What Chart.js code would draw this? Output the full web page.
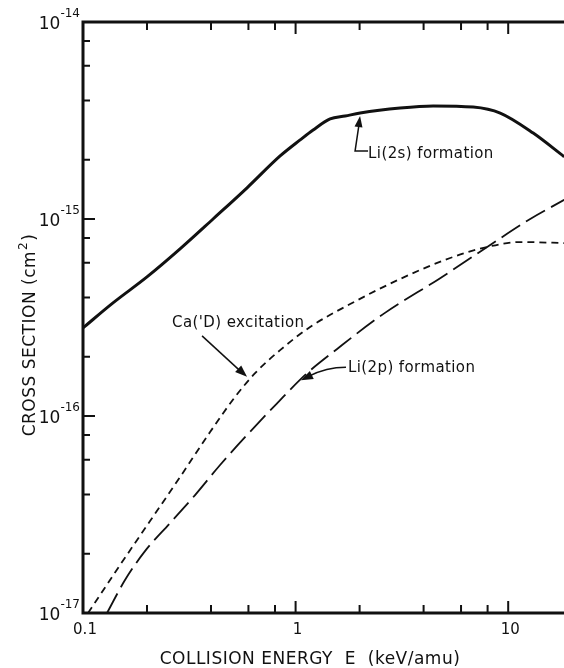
<!DOCTYPE html>
<html><head><meta charset="utf-8">
<script src="https://cdn.jsdelivr.net/npm/chart.js@4.4.1/dist/chart.umd.min.js"></script>
<style>html,body{margin:0;padding:0;background:#fff;}canvas{display:block;}</style>
</head><body>
<canvas id="c" width="564" height="668"></canvas>
<script>
// ---- data (keV/amu, cm^2) ----
const li2sEnergy = [0.1, 0.1384, 0.2, 0.2861, 0.409, 0.5911, 0.8457, 1.05, 1.209, 1.453, 1.71, 2.012, 3.102, 4.437, 6.843, 9.17, 13.11, 18.34];
const li2sCross  = [2.80e-16, 3.75e-16, 5.08e-16, 7.05e-16, 1.00e-15, 1.44e-15, 2.09e-15, 2.52e-15, 2.83e-15, 3.22e-15, 3.33e-15, 3.45e-15, 3.66e-15, 3.75e-15, 3.70e-15, 3.45e-15, 2.73e-15, 2.07e-15];
const caEnergy = [0.1056, 0.1493, 0.2067, 0.2861, 0.396, 0.5192, 0.6448, 0.8457, 1.17, 1.805, 3.102, 5.335, 7.963, 11.39, 18.34];
const caCross  = [1.0e-17, 1.75e-17, 2.93e-17, 4.90e-17, 8.29e-17, 1.25e-16, 1.65e-16, 2.16e-16, 2.83e-16, 3.70e-16, 4.96e-16, 6.34e-16, 7.21e-16, 7.64e-16, 7.55e-16];
const li2pEnergy = [0.1297, 0.1576, 0.1957, 0.2567, 0.3366, 0.4413, 0.5911, 0.8182, 1.133, 1.568, 2.581, 4.786, 7.963, 12.69, 18.34];
const li2pCross  = [1.0e-17, 1.47e-17, 2.06e-17, 2.86e-17, 3.97e-17, 5.64e-17, 8.01e-17, 1.16e-16, 1.65e-16, 2.19e-16, 3.29e-16, 5.01e-16, 7.21e-16, 1.00e-15, 1.25e-15];

// ---- ticks ----
const xMajorTicks = [0.1, 1, 10];
const xTickLabels = ['0.1', '1', '10'];
const xMinorTicks = [0.2, 0.4, 0.6, 0.8, 2, 4, 6, 8];
const yMajorTicks = [1e-14, 1e-15, 1e-16, 1e-17];
const yTickExponents = ['-14', '-15', '-16', '-17'];
const yMinorTicks = [8e-15, 6e-15, 4e-15, 2e-15, 8e-16, 6e-16, 4e-16, 2e-16, 8e-17, 6e-17, 4e-17, 2e-17];

const xTitle = 'COLLISION ENERGY  E  (keV/amu)';
const yTitleMain = 'CROSS SECTION (cm';
const yTitleSup = '2';
const yTitleEnd = ')';

const pts = (xs, ys) => xs.map((x, i) => ({x: x, y: ys[i]}));
const INK = '#111';
const FONT = '"DejaVu Sans", sans-serif';

function arrowHead(ctx, fromX, fromY, toX, toY, len, half) {
  const a = Math.atan2(toY - fromY, toX - fromX);
  ctx.beginPath();
  ctx.moveTo(toX, toY);
  ctx.lineTo(toX - len * Math.cos(a) + half * Math.sin(a), toY - len * Math.sin(a) - half * Math.cos(a));
  ctx.lineTo(toX - len * Math.cos(a) - half * Math.sin(a), toY - len * Math.sin(a) + half * Math.cos(a));
  ctx.closePath();
  ctx.fill();
}

const decor = {
  id: 'decor',
  afterDraw(chart) {
    const ctx = chart.ctx, xs = chart.scales.x, ys = chart.scales.y, a = chart.chartArea;
    ctx.save();
    ctx.strokeStyle = INK; ctx.fillStyle = INK;
    // frame
    ctx.lineWidth = 3; ctx.lineCap = 'square';
    ctx.beginPath();
    ctx.moveTo(a.right + 5, a.top); ctx.lineTo(a.left, a.top); ctx.lineTo(a.left, a.bottom); ctx.lineTo(a.right + 5, a.bottom);
    ctx.stroke();
    // ticks
    ctx.lineWidth = 2; ctx.lineCap = 'butt';
    ctx.beginPath();
    xMajorTicks.concat(xMinorTicks).forEach(v => {
      const L = xMajorTicks.includes(v) ? 12 : 8;
      const p = xs.getPixelForValue(v);
      if (p <= a.left + 2) return;
      ctx.moveTo(p, a.bottom); ctx.lineTo(p, a.bottom - L);
      ctx.moveTo(p, a.top); ctx.lineTo(p, a.top + L);
    });
    yMajorTicks.concat(yMinorTicks).forEach(v => {
      const L = yMajorTicks.includes(v) ? 12 : 7;
      const p = ys.getPixelForValue(v);
      if (p <= a.top + 2 || p >= a.bottom - 2) return;
      ctx.moveTo(a.left, p); ctx.lineTo(a.left + L, p);
    });
    ctx.stroke();
    // x tick labels
    ctx.font = '15px ' + FONT; ctx.textAlign = 'center'; ctx.textBaseline = 'alphabetic';
    xMajorTicks.forEach((v, i) => {
      ctx.fillText(xTickLabels[i], xs.getPixelForValue(v) + 2, a.bottom + 21);
    });
    // y tick labels 10^n
    yMajorTicks.forEach((v, i) => {
      const p = ys.getPixelForValue(v);
      ctx.font = '12px ' + FONT; ctx.textAlign = 'right';
      const supW = ctx.measureText(yTickExponents[i]).width;
      ctx.fillText(yTickExponents[i], a.left - 3, p - 5);
      ctx.font = '17px ' + FONT;
      ctx.fillText('10', a.left - 3 - supW, p + 7);
    });
    // x title
    ctx.font = '17px ' + FONT; ctx.textAlign = 'center';
    ctx.letterSpacing = '0.5px';
    ctx.fillText(xTitle, 310, 664);
    // y title
    ctx.save();
    ctx.translate(35, 0); ctx.rotate(-Math.PI / 2);
    ctx.textAlign = 'left';
    ctx.font = '17px ' + FONT;
    let w1 = ctx.measureText(yTitleMain).width;
    ctx.font = '12px ' + FONT; let w2 = ctx.measureText(yTitleSup).width;
    ctx.font = '17px ' + FONT; let w3 = ctx.measureText(yTitleEnd).width;
    let start = -(336 + (w1 + w2 + w3) / 2);
    ctx.fillText(yTitleMain, start, 0);
    ctx.font = '12px ' + FONT; ctx.fillText(yTitleSup, start + w1 + 1, -8);
    ctx.font = '17px ' + FONT; ctx.fillText(yTitleEnd, start + w1 + w2 + 2, 0);
    ctx.restore();

    // annotations
    ctx.font = '15px ' + FONT; ctx.letterSpacing = '0.4px'; ctx.textAlign = 'left'; ctx.lineWidth = 1.5;
    // Li(2s)
    let tx = xs.getPixelForValue(2.01), ty = ys.getPixelForValue(3.33e-15);
    ctx.beginPath(); ctx.moveTo(tx + 8, ty + 35); ctx.lineTo(tx - 5, ty + 35); ctx.lineTo(tx - 1, ty + 8); ctx.stroke();
    arrowHead(ctx, tx - 5, ty + 35, tx, ty, 11, 4);
    ctx.fillText('Li(2s) formation', tx + 8, ty + 42);
    // Ca('D)
    tx = xs.getPixelForValue(0.591); ty = ys.getPixelForValue(1.58e-16);
    ctx.beginPath(); ctx.moveTo(tx - 45, ty - 41); ctx.lineTo(tx - 8, ty - 7); ctx.stroke();
    arrowHead(ctx, tx - 45, ty - 41, tx, ty, 12, 4.5);
    ctx.fillText("Ca('D) excitation", tx - 75, ty - 50);
    // Li(2p)
    tx = xs.getPixelForValue(1.06); ty = ys.getPixelForValue(1.52e-16);
    ctx.beginPath(); ctx.moveTo(tx + 45, ty - 13); ctx.quadraticCurveTo(tx + 25, ty - 13, tx + 8, ty - 4); ctx.stroke();
    arrowHead(ctx, tx + 25, ty - 12, tx, ty, 12, 4.5);
    ctx.fillText('Li(2p) formation', tx + 47, ty - 8);
    ctx.restore();
  }
};

new Chart(document.getElementById('c'), {
  type: 'line',
  data: {
    datasets: [
      {label: 'Li(2s) formation', data: pts(li2sEnergy, li2sCross), borderColor: INK, borderWidth: 3, pointRadius: 0, cubicInterpolationMode: 'monotone', fill: false},
      {label: "Ca('D) excitation", data: pts(caEnergy, caCross), borderColor: INK, borderWidth: 1.8, borderDash: [7, 5], pointRadius: 0, cubicInterpolationMode: 'monotone', fill: false},
      {label: 'Li(2p) formation', data: pts(li2pEnergy, li2pCross), borderColor: INK, borderWidth: 1.8, borderDash: [22, 7], pointRadius: 0, cubicInterpolationMode: 'monotone', fill: false}
    ]
  },
  options: {
    responsive: false, animation: false, devicePixelRatio: 1,
    layout: {padding: {left: 83, right: 0, top: 22, bottom: 55}},
    plugins: {legend: {display: false}, tooltip: {enabled: false}},
    scales: {
      x: {type: 'logarithmic', min: 0.1, max: 18.3, display: false},
      y: {type: 'logarithmic', min: 1e-17, max: 1e-14, display: false}
    }
  },
  plugins: [decor]
});
</script>
</body></html>
